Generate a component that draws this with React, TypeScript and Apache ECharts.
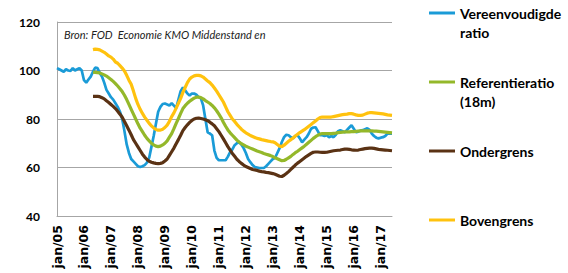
import React, { useEffect, useRef } from "react";
import * as echarts from "echarts";

const monthNames = ["jan", "feb", "mrt", "apr", "mei", "jun", "jul", "aug", "sep", "okt", "nov", "dec"];
const startYear = 2005;
const monthCount = 150;
const categories: string[] = [];
for (let i = 0; i < monthCount; i++) {
  const y = startYear + Math.floor(i / 12);
  categories.push(`${monthNames[i % 12]}/${String(y % 100).padStart(2, "0")}`);
}

const seriesNames = ["Vereenvoudigde ratio", "Referentieratio (18m)", "Ondergrens", "Bovengrens"];
const legendFirstLines = ["Vereenvoudigde", "Referentieratio", "Ondergrens", "Bovengrens"];
const legendSecondLines = ["ratio", "(18m)", "", ""];
const colors = ["#1a9bd7", "#94b82a", "#5a3214", "#ffc20e"];

// starting jan/05
const vereenvoudigde = [
  101, 100.5, 100, 99.5, 100.5, 100, 99.8, 101, 100, 100.5,
  101, 100, 96, 95, 96.3, 97.5, 99.5, 101.2, 101, 99,
  97.5, 95, 92, 90.5, 89, 88, 86.5, 85, 83, 80,
  75, 69.5, 66, 63.5, 62.5, 61.5, 60.5, 60.2, 60.5, 61,
  62, 64, 68.5, 73, 78, 83, 85, 86.2, 86.4, 86,
  85.6, 86.5, 85.5, 84.5, 88, 91.5, 93, 91.8, 90.5, 89.7,
  90.5, 90.5, 90, 89, 88.5, 85.6, 80, 74.5, 74, 73.3,
  67, 64, 63, 63, 63, 63, 64.5, 66.3, 67.5, 69.2,
  70, 70.4, 69.5, 68, 66, 63.5, 62.2, 61, 60.2, 60,
  59.8, 59.8, 59.8, 60.5, 61.5, 62.5, 63.5, 64, 66, 68,
  70.5, 72.5, 73.5, 73.3, 72.5, 72, 73, 73.3, 72, 70.4,
  71.5, 72.5, 74, 76, 76.5, 76.6, 75, 73.3, 73.3, 73,
  73.3, 72.5, 73, 72.5, 73.5, 75, 75.4, 75, 74.5, 75.5,
  76.5, 77.4, 76, 74.5, 74.8, 75.2, 75.4, 75.8, 76.2, 75.5,
  74, 73, 72.3, 72, 72.3, 72.5, 73, 74, 74, 74,
];

// the three bands start at mei/06 (month index 16)
const bandStart = 16;
const referentie = [
  99.3, 99.2, 99.1, 99, 98.6, 98.2, 97.7, 97, 96.3, 95.5,
  94.6, 93.6, 92.5, 91.3, 89.8, 88, 86, 84, 82, 80,
  78, 76.2, 74.8, 73.3, 72, 71, 70, 69.3, 68.8, 68.6,
  68.8, 69.3, 70, 71, 72.5, 74, 76, 78.2, 80.2, 82.3,
  84.3, 85.5, 86.5, 87.3, 88, 88.6, 89, 89, 88.8, 88.3,
  87.6, 87, 86.4, 85.6, 84.6, 83.4, 82, 80.5, 78.7, 77,
  75.5, 74.3, 73.3, 72.3, 71.3, 70.5, 69.8, 69.3, 68.8, 68.4,
  68, 67.6, 67.2, 66.8, 66.5, 66.2, 65.8, 65.5, 65.2, 64.9,
  64.5, 64, 63.6, 63.2, 62.8, 62.9, 63.4, 64, 64.6, 65.4,
  66.1, 66.7, 67.4, 68.1, 68.8, 69.6, 70.4, 71.2, 72, 72.7,
  73.3, 73.8, 74, 74, 74, 74, 74, 74.1, 74.2, 74.4,
  74.5, 74.6, 74.7, 74.7, 74.7, 74.8, 74.8, 74.9, 75, 75.1,
  75.1, 75.1, 75.1, 75.1, 75.1, 75, 75, 74.9, 74.8, 74.7,
  74.6, 74.5, 74.4, 74.3,
];
const ondergrens = [
  89.3, 89.3, 89.3, 89.2, 88.8, 88.3, 87.5, 86.8, 86, 85.2,
  84.3, 83.2, 82, 80.7, 79, 77.2, 75.4, 73.5, 71.5, 70,
  68.5, 67, 65.5, 64.3, 63.3, 62.6, 62.2, 61.9, 61.7, 61.6,
  61.7, 62, 62.7, 63.5, 65, 66.5, 68, 69.8, 71.5, 73.3,
  75.2, 76.5, 77.6, 78.6, 79.4, 80, 80.3, 80.4, 80.2, 80,
  79.7, 79.3, 78.7, 78, 77.2, 76, 74.8, 73.3, 71.8, 70.2,
  68.6, 67.2, 65.8, 64.6, 63.4, 62.5, 61.7, 61, 60.4, 60,
  59.6, 59.2, 59, 58.8, 58.5, 58.3, 58.2, 58, 57.9, 57.7,
  57.5, 57.2, 56.8, 56.4, 56.3, 56.8, 57.5, 58.3, 59.2, 60.1,
  61, 61.8, 62.5, 63.2, 63.9, 64.6, 65.2, 65.8, 66.3, 66.4,
  66.4, 66.3, 66.2, 66.2, 66.3, 66.5, 66.7, 66.9, 67, 67.1,
  67.2, 67.4, 67.6, 67.6, 67.5, 67.3, 67.2, 67.1, 67.2, 67.4,
  67.6, 67.8, 67.9, 68, 68, 67.9, 67.7, 67.5, 67.4, 67.3,
  67.2, 67.1, 67, 66.9,
];
const bovengrens = [
  108.6, 108.8, 108.7, 108.5, 108, 107.5, 106.8, 106, 105.5, 104.7,
  103.5, 103, 102, 101, 99.8, 98, 96, 94.3, 91.5, 88.5,
  86, 84, 82.3, 80.8, 79.5, 78.2, 77.2, 76.3, 75.7, 75.4,
  75.4, 75.8, 76.5, 77.5, 79, 81, 82.5, 84.5, 86.5, 88.5,
  91, 93, 95, 96.5, 97.3, 97.8, 98, 98, 97.8, 97.3,
  96.5, 95.7, 95, 94, 92.8, 91.5, 90, 88.5, 87, 85,
  83, 81.5, 80, 79, 77.8, 76.8, 75.8, 75, 74.3, 73.8,
  73.2, 72.8, 72.4, 72, 71.8, 71.5, 71.3, 71.1, 70.9, 70.7,
  70.6, 70.2, 69.5, 68.8, 68.6, 69.2, 70, 70.8, 71.5, 72.2,
  73, 73.7, 74.4, 75, 75.6, 76.3, 77, 77.7, 78.5, 79.2,
  80, 80.6, 80.8, 80.8, 80.8, 80.8, 80.8, 81, 81.2, 81.4,
  81.6, 81.8, 81.9, 82, 82.2, 82.2, 82, 81.7, 81.5, 81.5,
  81.6, 82, 82.4, 82.6, 82.6, 82.5, 82.4, 82.3, 82.2, 82.1,
  81.9, 81.7, 81.6, 81.5,
];

const yMin = 40;
const yMax = 120;
const yInterval = 20;
const sourceText = "Bron: FOD  Economie KMO Middenstand en";

const pad = (arr: number[]) => [...new Array(bandStart).fill(null), ...arr];
const seriesData = [vereenvoudigde, pad(referentie), pad(ondergrens), pad(bovengrens)];

const FONT = "Lato, 'Noto Sans', sans-serif";
const XFONT = "'DejaVu Sans', sans-serif";

export default function App() {
  const ref = useRef<HTMLDivElement>(null);
  useEffect(() => {
    document.body.style.margin = "0";
    if (!ref.current) return;
    const chart = echarts.init(ref.current, null, { renderer: "svg" });
    const legendTop0 = 5;
    const legendStep = 69;
    chart.setOption({
      animation: false,
      backgroundColor: "#ffffff",
      grid: { left: 57, right: 176, top: 22, bottom: 57, containLabel: false },
      legend: seriesNames.map((n, i) => ({
        data: [n],
        left: 429,
        top: legendTop0 + legendStep * i,
        padding: 0,
        itemWidth: 26,
        itemHeight: 3,
        icon: "rect",
        selectedMode: false,
        formatter: () => legendFirstLines[i],
        textStyle: { fontFamily: FONT, fontSize: 14, fontWeight: "bold", color: "#000", lineHeight: 16 },
      })),
      graphic: [
        ...legendSecondLines
          .map((t, i) => ({ t, i }))
          .filter((o) => o.t)
          .map((o) => ({
            type: "text",
            left: 460,
            top: legendTop0 + legendStep * o.i + 20,
            style: { text: o.t, fontFamily: FONT, fontSize: 14, fontWeight: "bold", fill: "#000" },
          })),
        {
          type: "text",
          left: 64,
          top: 29,
          style: { text: sourceText, fontFamily: FONT, fontSize: 11, fontStyle: "italic", fill: "#222" },
        },
      ],
      xAxis: {
        type: "category",
        data: categories,
        boundaryGap: false,
        axisLine: { lineStyle: { color: "#a6a6a6", width: 1 } },
        axisTick: { show: false },
        axisLabel: {
          interval: 11,
          rotate: 90,
          margin: 9,
          fontFamily: XFONT,
          fontSize: 12.5,
          fontWeight: "bold",
          color: "#000",
        },
        splitLine: { show: false },
      },
      yAxis: {
        type: "value",
        min: yMin,
        max: yMax,
        interval: yInterval,
        axisLine: { show: true, lineStyle: { color: "#a6a6a6", width: 1 } },
        axisTick: { show: false },
        axisLabel: { margin: 17, fontFamily: FONT, fontSize: 12, fontWeight: "bold", color: "#000" },
        splitLine: { lineStyle: { color: "#a6a6a6", width: 1 } },
      },
      series: seriesNames.map((n, i) => ({
        name: n,
        type: "line",
        data: seriesData[i],
        showSymbol: false,
        symbol: "none",
        color: colors[i],
        lineStyle: { color: colors[i], width: i === 0 ? 2.7 : 3.2 },
        connectNulls: false,
      })),
    });
    return () => chart.dispose();
  }, []);
  return <div ref={ref} style={{ width: 568, height: 273 }} />;
}
